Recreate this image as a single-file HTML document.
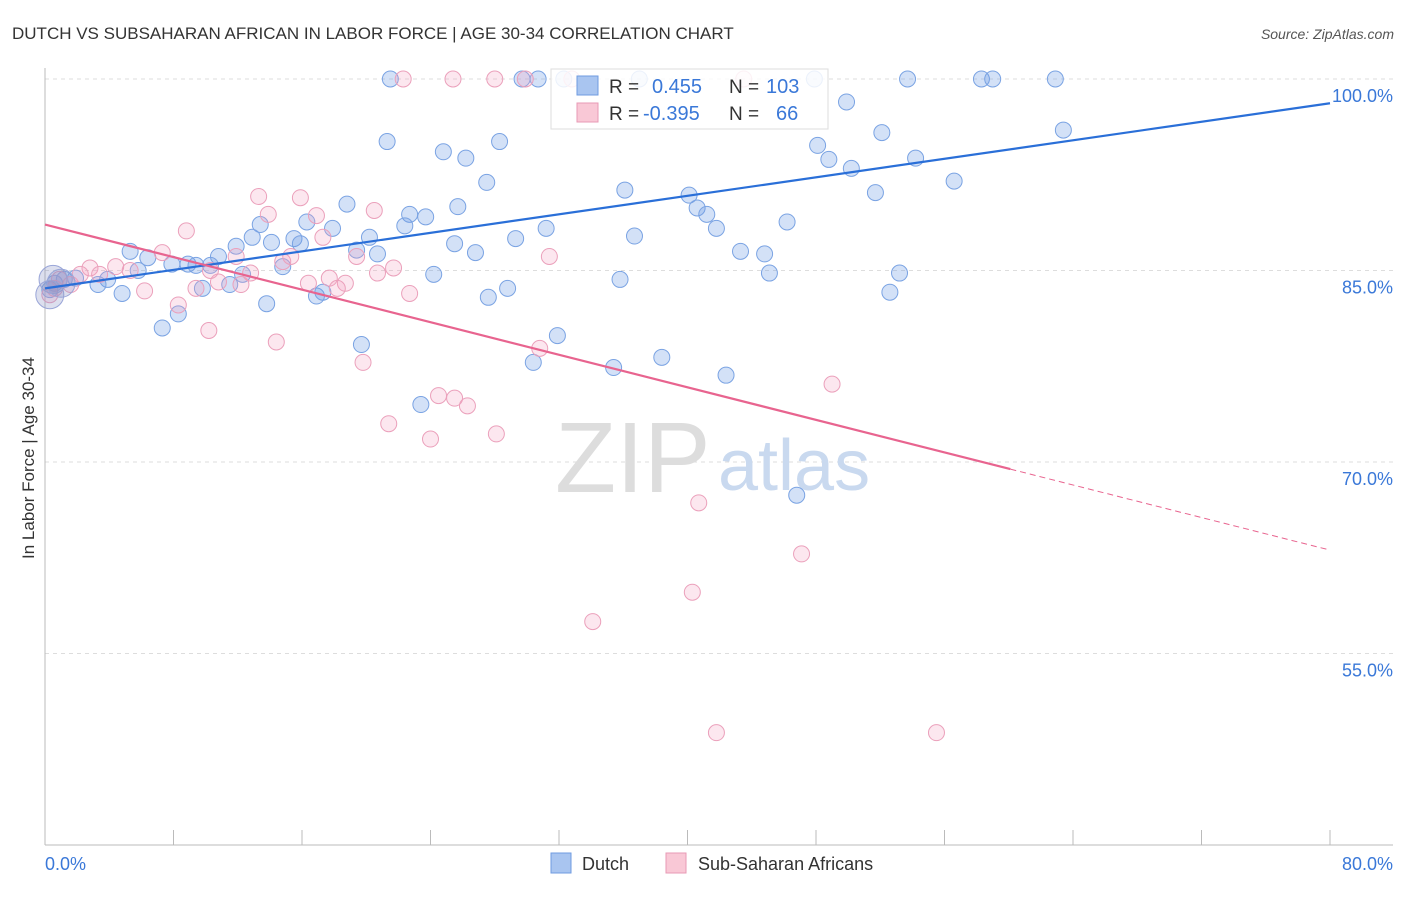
<!DOCTYPE html>
<html><head><meta charset="utf-8"><style>
body{margin:0;background:#fff;font-family:"Liberation Sans",sans-serif;}
svg text{font-family:"Liberation Sans",sans-serif;}
</style></head><body>
<svg id="chart" width="1406" height="892">
<text x="12" y="39" font-size="17" fill="#333">DUTCH VS SUBSAHARAN AFRICAN IN LABOR FORCE | AGE 30-34 CORRELATION CHART</text>
<text x="1394" y="39" font-size="14" fill="#555" font-style="italic" text-anchor="end">Source: ZipAtlas.com</text>
<text x="0" y="0" transform="translate(34,458) rotate(-90)" font-size="17" fill="#333" text-anchor="middle">In Labor Force | Age 30-34</text>
<g id="grid"></g>
<text x="555" y="492" font-size="100" fill="#ddd" font-family="Liberation Serif">ZIP</text>
<text x="718" y="490" font-size="72" fill="#c9d9ef">atlas</text>
<g id="pts"></g>
<g id="lines"></g>
<g>
<rect x="551" y="69" width="277" height="60" fill="#fff" fill-opacity="0.85" stroke="#ddd"/>
<rect x="577" y="76" width="21" height="19" fill="#a9c5f0" stroke="#6f9be0"/>
<rect x="577" y="103" width="21" height="19" fill="#f9c8d6" stroke="#e89ab5"/>
<text x="609" y="93" font-size="19" fill="#333">R = </text><text x="652" y="93" font-size="20" fill="#3a78d8">0.455</text>
<text x="729" y="93" font-size="19" fill="#333">N = </text><text x="766" y="93" font-size="20" fill="#3a78d8">103</text>
<text x="609" y="120" font-size="19" fill="#333">R = </text><text x="643" y="120" font-size="20" fill="#3a78d8">-0.395</text>
<text x="729" y="120" font-size="19" fill="#333">N = </text><text x="776" y="120" font-size="20" fill="#3a78d8">66</text>
</g>
<g>
<rect x="551" y="853" width="20" height="20" fill="#a9c5f0" stroke="#6f9be0"/>
<text x="582" y="870" font-size="18" fill="#333">Dutch</text>
<rect x="666" y="853" width="20" height="20" fill="#f9c8d6" stroke="#e89ab5"/>
<text x="698" y="870" font-size="18" fill="#333">Sub-Saharan Africans</text>
</g>
</svg>
<script>
const yTicks=[100,85,70,55];
const yTickLabels=["100.0%","85.0%","70.0%","55.0%"];
const xTickLabels=["0.0%","80.0%"];
const dutchX=[21.5,29.7,30.7,32.3,37.0,47.9,53.7,58.3,59.0,62.9,49.9,21.3,28.3,24.8,26.2,52.1,63.4,48.1,48.8,50.2,54.2,56.6,27.5,36.1,40.1,51.7,18.8,25.7,22.7,23.7,22.4,40.6,41.2,41.8,46.2,13.4,16.3,17.9,31.2,36.7,29.3,15.5,14.1,20.2,15.9,12.9,25.5,26.8,19.4,20.7,11.9,10.8,43.3,44.8,5.3,6.4,8.9,10.3,9.4,7.9,14.8,45.1,53.2,24.2,35.8,12.3,11.5,9.8,5.8,3.9,3.3,1.9,1.2,0.6,0.3,4.8,28.8,27.6,16.9,17.3,52.6,13.8,8.3,7.3,31.9,19.7,38.4,30.4,35.4,42.4,23.4,46.8];
const dutchY=[100,100,100,100,100,100,100,100,100,100,98.2,95.1,95.1,94.3,93.8,95.8,96.0,94.8,93.7,93.0,93.8,92.0,91.9,91.3,90.9,91.1,90.2,90.0,89.4,89.2,88.5,89.9,89.4,88.3,88.8,88.6,88.8,88.3,88.3,87.7,87.5,87.5,87.2,87.6,87.1,87.6,87.1,86.4,86.6,86.3,86.9,86.1,86.5,86.3,86.5,86.0,85.5,85.4,85.4,85.5,85.3,84.8,84.8,84.7,84.3,84.7,83.9,83.6,85.0,84.3,83.9,84.4,84.3,84.0,83.5,83.2,83.6,82.9,83.0,83.3,83.3,82.4,81.6,80.5,79.9,79.2,78.2,77.8,77.4,76.8,74.5,67.4];
const subX=[22.3,25.4,28.0,29.9,32.8,43.5,13.3,15.9,13.9,16.9,20.5,17.3,8.8,7.3,11.9,12.8,19.4,21.7,20.7,31.4,14.8,15.3,10.3,5.3,4.4,2.8,3.4,2.2,0.9,1.6,6.2,9.4,10.8,12.2,17.7,18.7,18.2,16.4,22.7,8.3,10.2,14.4,19.8,30.8,24.5,25.5,26.3,21.4,24.0,28.1,49.0,40.7,47.1,40.3,34.1,41.8,55.5,0.3,0.6];
const subY=[100,100,100,100,100,100,90.8,90.7,89.4,89.3,89.7,87.6,88.1,86.4,86.1,84.8,86.1,85.2,84.8,86.1,85.7,86.1,85.0,85.0,85.3,85.2,84.7,84.7,84.3,83.9,83.4,83.6,84.1,83.9,84.4,84.0,83.6,84.0,83.2,82.3,80.3,79.4,77.8,78.9,75.2,75.0,74.4,73.0,71.8,72.2,76.1,66.8,62.8,59.8,57.5,48.8,48.8,83.1,83.6];
const bigX=[0.5,0.3,1.0];
const bigY=[84.3,83.1,84.0];
const dutchTrend=[83.6,98.1];
const subTrend=[88.6,63.1];
const subSolidEnd=60.1;
const NS="http://www.w3.org/2000/svg";
const X=v=>45+v*(1285/80);
const Y=v=>79+(100-v)*(191.5/15);
function mk(tag,attrs,parent){const e=document.createElementNS(NS,tag);for(const k in attrs)e.setAttribute(k,attrs[k]);parent.appendChild(e);return e;}
const grid=document.getElementById('grid');
yTicks.forEach((t,i)=>{
 const l=mk('line',{x1:45,x2:1393,y1:Y(t),y2:Y(t),stroke:'#ddd','stroke-dasharray':'4,4'},grid);
 
 
 const tx=mk('text',{x:1393,y:Y(t)+23,'font-size':18,fill:'#3a78d8','text-anchor':'end'},grid);
 tx.textContent=yTickLabels[i];
 
 
});
const ax=mk('line',{x1:45,x2:45,y1:68,y2:845,stroke:'#bbb'},grid);


const bx=mk('line',{x1:45,x2:1393,y1:845,y2:845,stroke:'#bbb'},grid);


for(let i=0;i<=10;i++){const t=mk('line',{x1:X(i*8),x2:X(i*8),y1:830,y2:845,stroke:'#bbb'},grid);
 
 }
[[0,'start',45],[80,'end',1393]].forEach((d,i)=>{const t=mk('text',{x:d[2],y:870,'font-size':18,fill:'#3a78d8','text-anchor':d[1]},grid);t.textContent=xTickLabels[i];
 
 });
const pts=document.getElementById('pts');
dutchX.forEach((x,i)=>{const c=mk('circle',{cx:X(x),cy:Y(dutchY[i]),r:8,fill:'rgba(110,155,230,0.3)',stroke:'#7aa3e3','stroke-width':1},pts);
 
 });
subX.forEach((x,i)=>{const c=mk('circle',{cx:X(x),cy:Y(subY[i]),r:8,fill:'rgba(245,160,190,0.25)',stroke:'#eba0bb','stroke-width':1},pts);
 
 });
bigX.forEach((x,i)=>{const c=mk('circle',{cx:X(x),cy:Y(bigY[i]),r:14,fill:'rgba(140,150,200,0.3)',stroke:'#9aa6d8','stroke-width':1},pts);
 
 });
const lines=document.getElementById('lines');
const b=mk('line',{x1:X(0),y1:Y(dutchTrend[0]),x2:X(80),y2:Y(dutchTrend[1]),stroke:'#2a6fd8','stroke-width':2.2},lines);


const sy=subTrend[0]+(subTrend[1]-subTrend[0])*subSolidEnd/80;
const p=mk('line',{x1:X(0),y1:Y(subTrend[0]),x2:X(subSolidEnd),y2:Y(sy),stroke:'#e8648f','stroke-width':2.2},lines);


const pd=mk('line',{x1:X(subSolidEnd),y1:Y(sy),x2:X(80),y2:Y(subTrend[1]),stroke:'#e8648f','stroke-width':1,'stroke-dasharray':'6,4'},lines);


</script>
</body></html>
